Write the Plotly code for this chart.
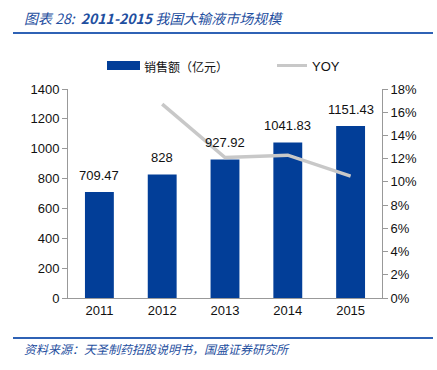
import plotly.graph_objects as go

years = ["2011", "2012", "2013", "2014", "2015"]
sales = [709.47, 828, 927.92, 1041.83, 1151.43]
sales_labels = ["709.47", "828", "927.92", "1041.83", "1151.43"]
yoy_years = ["2012", "2013", "2014", "2015"]
yoy = [0.167, 0.121, 0.123, 0.105]

BLUE = "#023E98"
GRAY = "#C8C8C8"
TXT = "#1F4FA0"
FONT = "Liberation Sans, Arial, sans-serif"
CJK = "Noto Sans CJK SC"

# plot area geometry (pixels) used for paper-coordinate decorations
L, R, T, B = 68, 382, 89, 298
PW, PH = R - L, B - T


def px(x):
    return (x - L) / PW


def py(y):
    return (B - y) / PH


fig = go.Figure()
fig.add_trace(go.Bar(
    x=years, y=sales, name="销售额（亿元）",
    marker=dict(color=BLUE, line=dict(width=0)),
    width=0.46,
))
fig.add_trace(go.Scatter(
    x=yoy_years, y=yoy, name="YOY", yaxis="y2", mode="lines",
    line=dict(color=GRAY, width=3.5),
))

# value labels above bars, positioned through the data axes (category index)
label_annotations = [
    dict(x=years.index(x), y=v, xref="x", yref="y", text=t, showarrow=False,
         xanchor="center", yanchor="bottom", yshift=7,
         font=dict(family=FONT, size=13, color="#111111"))
    for x, v, t in zip(years, sales, sales_labels)
]

fig.update_layout(
    width=437, height=370,
    margin=dict(l=L, r=437 - R, t=T, b=370 - B, autoexpand=False),
    paper_bgcolor="white", plot_bgcolor="white",
    font=dict(family=FONT, size=13, color="#111111"),
    showlegend=False,
    xaxis=dict(type="category", categoryorder="array", categoryarray=years,
               range=[-0.5, len(years) - 0.5],
               showline=True, linecolor="#999999", linewidth=1, ticks="",
               tickfont=dict(size=13), showgrid=False, fixedrange=True),
    yaxis=dict(range=[0, 1400], dtick=200, showline=True, linecolor="#999999",
               linewidth=1, ticks="outside", ticklen=5, tickcolor="#999999",
               showgrid=False, zeroline=False, tickfont=dict(size=13)),
    yaxis2=dict(range=[0, 0.18], dtick=0.02, tickformat=".0%", overlaying="y",
                side="right", showline=True, linecolor="#999999", linewidth=1,
                ticks="outside", ticklen=5, tickcolor="#999999",
                showgrid=False, zeroline=False, tickfont=dict(size=13)),
    shapes=[
        dict(type="line", xref="paper", yref="paper", x0=px(13), x1=px(433),
             y0=py(33), y1=py(33), line=dict(color="#2F62B5", width=2)),
        dict(type="line", xref="paper", yref="paper", x0=px(13), x1=px(433),
             y0=py(338), y1=py(338), line=dict(color="#2F62B5", width=2)),
        # legend swatches
        dict(type="rect", xref="paper", yref="paper", x0=px(107), x1=px(140),
             y0=py(70), y1=py(61), fillcolor=BLUE, line=dict(width=0)),
        dict(type="line", xref="paper", yref="paper", x0=px(277), x1=px(307),
             y0=py(65.5), y1=py(65.5), line=dict(color=GRAY, width=3)),
    ],
    annotations=label_annotations + [
        dict(text="<i>图表 28:  <b>2011-2015</b> 我国大输液市场规模</i>",
             xref="paper", yref="paper", x=px(22), y=py(18),
             xanchor="left", yanchor="middle", showarrow=False,
             font=dict(family=CJK, size=14, color=TXT)),
        dict(text="<i>资料来源：天圣制药招股说明书，国盛证券研究所</i>",
             xref="paper", yref="paper", x=px(22), y=py(348),
             xanchor="left", yanchor="middle", showarrow=False,
             font=dict(family=CJK, size=12, color=TXT)),
        dict(text="销售额（亿元）", xref="paper", yref="paper", x=px(142), y=py(66),
             xanchor="left", yanchor="middle", showarrow=False,
             font=dict(family=CJK, size=12, color="#111111")),
        dict(text="YOY", xref="paper", yref="paper", x=px(310), y=py(66),
             xanchor="left", yanchor="middle", showarrow=False,
             font=dict(family=FONT, size=13, color="#111111")),
    ],
)

fig.write_html("out.html", config={"displayModeBar": False},
               post_script="document.body.style.margin='0';document.body.style.overflow='hidden';")
